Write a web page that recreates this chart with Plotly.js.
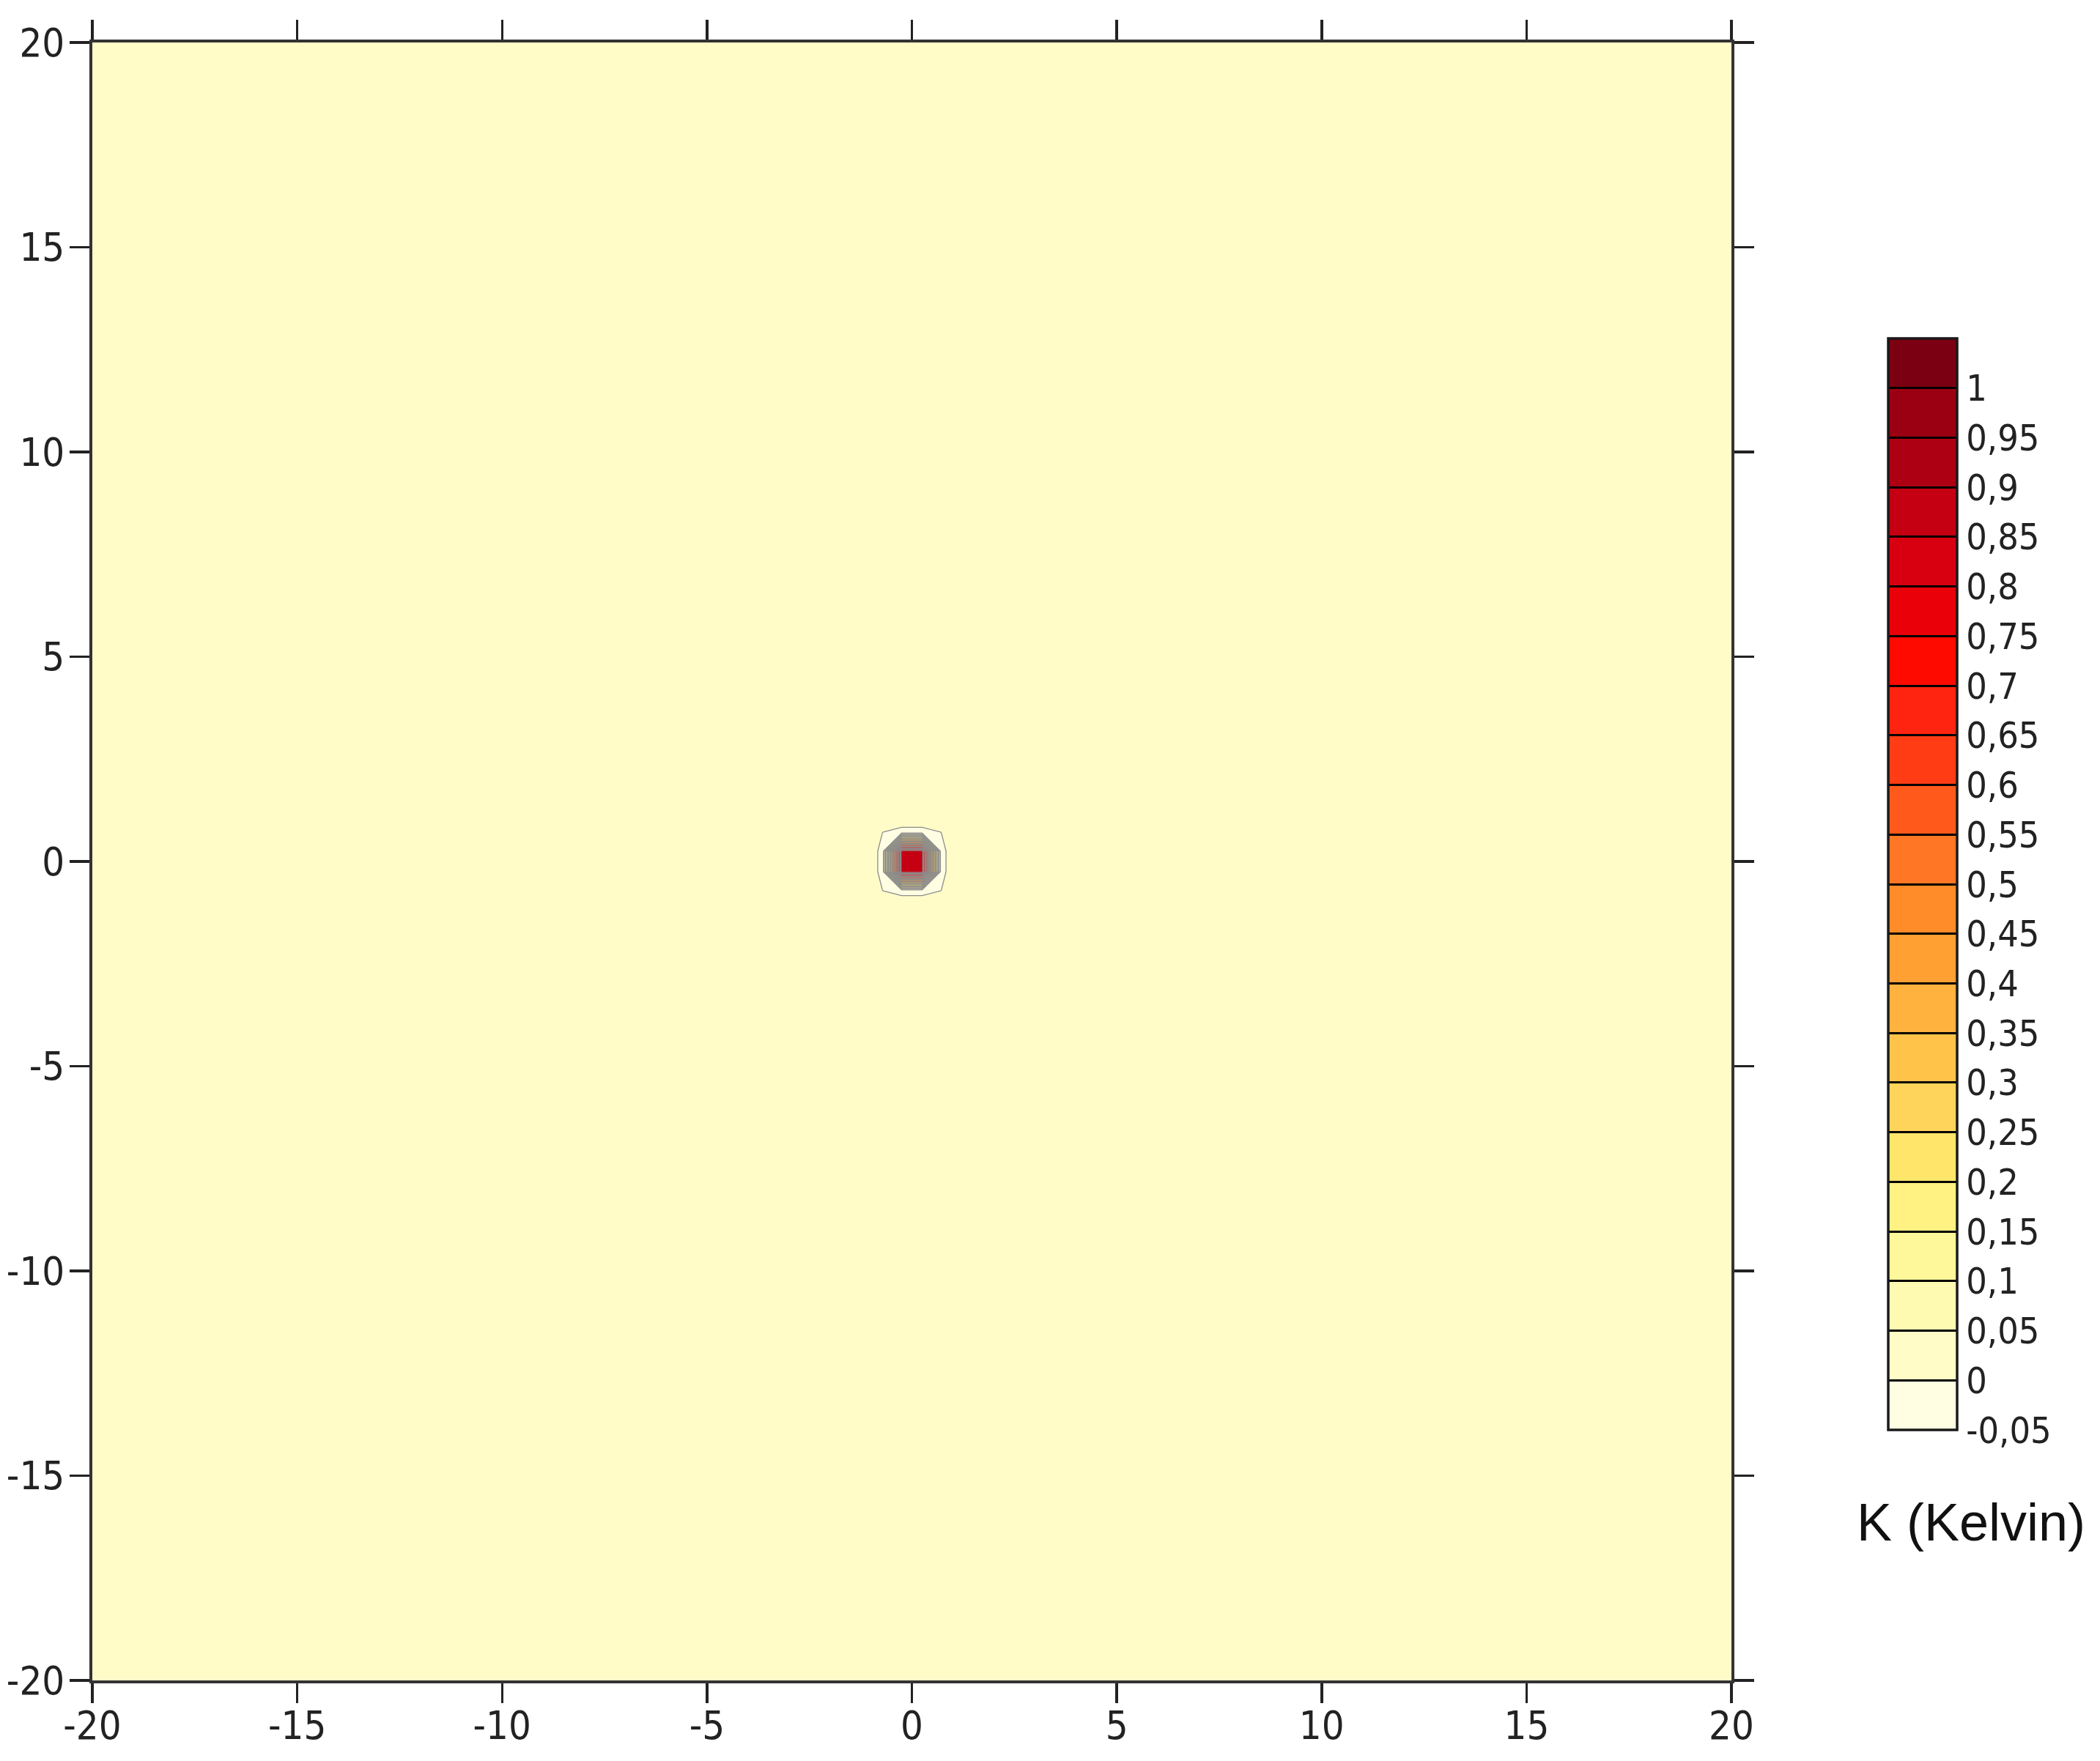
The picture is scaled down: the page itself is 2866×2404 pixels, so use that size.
<!DOCTYPE html>
<html>
<head>
<meta charset="utf-8">
<script src="https://cdn.plot.ly/plotly-3.0.1.min.js"></script>
<style>
  html, body { margin: 0; padding: 0; background: #fff; }
  #plot { width: 2866px; height: 2404px; }
</style>
</head>
<body>
<div id="plot"></div>
<script>
// grid coordinates (non uniform: fine only round the hot spot)
var gridX = [-20, -1.1, -0.7, -0.25, 0.25, 0.7, 1.1, 20];
var gridY = [-20, -1.1, -0.7, -0.25, 0.25, 0.7, 1.1, 20];

// temperature, K (small undershoot ring round the spot)
var zValues = [
    [0.02, 0.02, 0.02, 0.02, 0.02, 0.02, 0.02, 0.02],
    [0.02, 0.02, 0.02, 0.02, 0.02, 0.02, 0.02, 0.02],
    [0.02, 0.02, -0.001, -0.01, -0.01, -0.001, 0.02, 0.02],
    [0.02, 0.02, -0.01, 0.88, 0.88, -0.01, 0.02, 0.02],
    [0.02, 0.02, -0.01, 0.88, 0.88, -0.01, 0.02, 0.02],
    [0.02, 0.02, -0.001, -0.01, -0.01, -0.001, 0.02, 0.02],
    [0.02, 0.02, 0.02, 0.02, 0.02, 0.02, 0.02, 0.02],
    [0.02, 0.02, 0.02, 0.02, 0.02, 0.02, 0.02, 0.02]
];

// band colours, from -0.05..0 up to 1..1.05
var bandColors = [
    '#fffee2', '#fffcc8', '#fffab2', '#fff89a', '#fff282', '#ffe66a',
    '#ffd45a', '#ffc34a', '#ffb23e', '#ffa033', '#ff8c28', '#ff7624',
    '#ff5a1c', '#ff3c14', '#ff2410', '#ff0a00', '#ea0008', '#d80010',
    '#c40012', '#ad0012', '#9b0012', '#7b0011'
];

var axisTickVals = [-20, -15, -10, -5, 0, 5, 10, 15, 20];
var axisTickText = ['-20', '-15', '-10', '-5', '0', '5', '10', '15', '20'];

var cbTickVals = [-0.05, 0, 0.05, 0.1, 0.15, 0.2, 0.25, 0.3, 0.35, 0.4, 0.45,
    0.5, 0.55, 0.6, 0.65, 0.7, 0.75, 0.8, 0.85, 0.9, 0.95, 1];
var cbTickText = ['-0,05', '0', '0,05', '0,1', '0,15', '0,2', '0,25', '0,3', '0,35', '0,4', '0,45',
    '0,5', '0,55', '0,6', '0,65', '0,7', '0,75', '0,8', '0,85', '0,9', '0,95', '1'];

document.addEventListener('DOMContentLoaded', function () {

    var n = bandColors.length;

    // contour fill: one colour per band
    var fillScale = bandColors.map(function (c, i) { return [i / (n - 1), c]; });

    // stepped scale for the colour bar
    var stepScale = [];
    bandColors.forEach(function (c, i) {
        stepScale.push([i / n, c]);
        stepScale.push([(i + 1) / n, c]);
    });

    var narrow = 'Liberation Sans Narrow, Arial Narrow, DejaVu Sans Condensed, sans-serif';

    var field = {
        type: 'contour',
        x: gridX,
        y: gridY,
        z: zValues,
        autocontour: false,
        contours: { start: 0, end: 1, size: 0.05, coloring: 'fill' },
        colorscale: fillScale,
        line: { color: '#8c8c8c', width: 1.3, smoothing: 0 },
        showscale: false,
        hoverinfo: 'skip'
    };

    // only here to carry the colour bar
    var scaleHolder = {
        type: 'scatter',
        mode: 'markers',
        x: [null],
        y: [null],
        showlegend: false,
        hoverinfo: 'skip',
        marker: {
            color: [0],
            cmin: -0.05,
            cmax: 1.05,
            colorscale: stepScale,
            showscale: true,
            colorbar: {
                x: 1.0957,
                xanchor: 'left',
                xpad: 0,
                y: 0.4861,
                yanchor: 'middle',
                ypad: 0,
                len: 1490,
                lenmode: 'pixels',
                thickness: 94,
                outlinewidth: 3.5,
                outlinecolor: '#1a1a1a',
                tickmode: 'array',
                tickvals: cbTickVals,
                ticktext: cbTickText,
                ticks: 'inside',
                ticklen: 94,
                tickwidth: 3,
                tickcolor: '#000',
                tickfont: { family: narrow, size: 50, color: '#222' }
            }
        }
    };

    var axisStyle = {
        range: [-20, 20],
        tickmode: 'array',
        tickvals: axisTickVals,
        ticktext: axisTickText,
        ticks: 'outside',
        ticklen: 27,
        tickwidth: 3.5,
        tickcolor: '#222',
        showline: true,
        linewidth: 4,
        linecolor: '#333',
        mirror: 'ticks',
        showgrid: false,
        zeroline: false,
        tickfont: { family: narrow, size: 54, color: '#222' }
    };

    var layout = {
        width: 2866,
        height: 2404,
        margin: { l: 126, r: 503, t: 58, b: 110, autoexpand: false },
        paper_bgcolor: '#fff',
        plot_bgcolor: '#fff',
        showlegend: false,
        xaxis: Object.assign({}, axisStyle, { ticklabelstandoff: -16 }),
        yaxis: Object.assign({}, axisStyle, { ticklabelstandoff: -4 }),
        annotations: [{
            text: 'K (Kelvin)',
            xref: 'paper',
            yref: 'paper',
            x: 1.1462,
            y: 0.0966,
            xanchor: 'center',
            yanchor: 'middle',
            showarrow: false,
            font: { family: 'Liberation Sans, Arial, sans-serif', size: 72, color: '#111' }
        }]
    };

    Plotly.newPlot('plot', [field, scaleHolder], layout, { displayModeBar: false, staticPlot: true });
});
</script>
</body>
</html>
